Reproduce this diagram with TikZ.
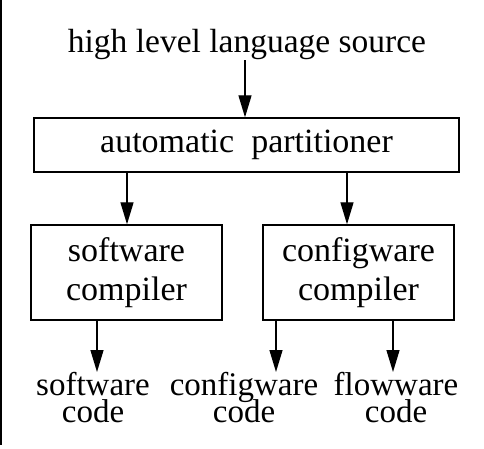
\documentclass[tikz,border=0pt]{standalone}
\usepackage{fontspec}
\setmainfont{Liberation Serif}
\usetikzlibrary{arrows.meta}
\newcommand\mytightlines{\lineskiplimit=-100pt\relax\lineskip=0pt\relax}
\begin{document}
\begin{tikzpicture}[x=1pt,y=-1pt,
  boxstyle/.style={draw,line width=1.4pt,rectangle,inner sep=0pt,align=center,
    font=\fontsize{34}{39}\selectfont},
  lbl/.style={inner sep=0pt,align=center,font=\fontsize{33}{27.5}\selectfont\mytightlines},
  arr/.style={line width=1.3pt,-{Triangle[length=22pt,width=13pt]}}]
\useasboundingbox (0,0) rectangle (484,449);
\fill[black] (0,0) rectangle (1.8,445);
\node[inner sep=0pt,anchor=base,font=\fontsize{33.5}{40}\selectfont] (src) at (247,53) {high level language source};
\node[boxstyle,minimum width=425pt,minimum height=54pt,text height=22pt,text depth=7pt] (part) at (246.5,145) {automatic\ \ partitioner};
\node[boxstyle,minimum width=191pt,minimum height=95pt] (sw) at (126.5,272.5) {software\\compiler};
\node[boxstyle,minimum width=191pt,minimum height=95pt] (cw) at (358.5,272.5) {configware\\compiler};
\node[lbl,anchor=north] (swc) at (93,372) {software\\code};
\node[lbl,anchor=north] (cwc) at (244,372) {configware\\code};
\node[lbl,anchor=north] (fwc) at (396,372) {flowware\\code};
\coordinate (a1) at (245,63);
\coordinate (a2) at (127,225);
\coordinate (a3) at (347,225);
\coordinate (a4) at (97,372);
\coordinate (a5) at (276,372);
\coordinate (a6) at (393,372);
\draw[arr] (src.south -| a1) -- (part.north -| a1);
\draw[arr] (part.south -| a2) -- (sw.north -| a2);
\draw[arr] (part.south -| a3) -- (cw.north -| a3);
\draw[arr] (sw.south -| a4) -- (swc.north -| a4);
\draw[arr] (cw.south -| a5) -- (cwc.north -| a5);
\draw[arr] (cw.south -| a6) -- (fwc.north -| a6);
\end{tikzpicture}
\end{document}
